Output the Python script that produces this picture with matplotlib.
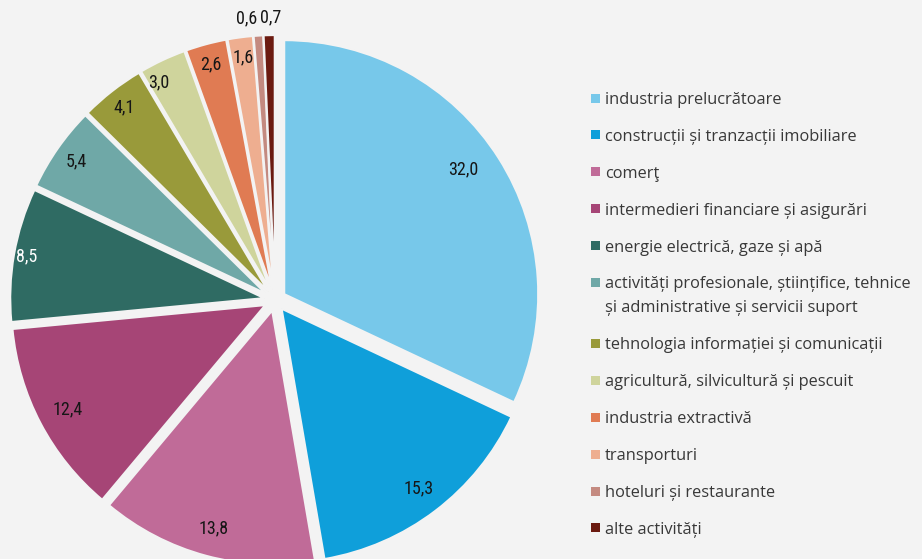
"""Pie chart: structura pe sectoare (procente)."""

import numpy as np
import matplotlib.pyplot as plt
from matplotlib.patches import Rectangle

# Data
sectors = [
    'industria prelucrătoare',
    'construcții și tranzacții imobiliare',
    'comerţ',
    'intermedieri financiare și asigurări',
    'energie electrică, gaze și apă',
    'activități profesionale, științifice, tehnice\nși administrative și servicii suport',
    'tehnologia informației și comunicații',
    'agricultură, silvicultură și pescuit',
    'industria extractivă',
    'transporturi',
    'hoteluri și restaurante',
    'alte activități',
]
shares = [32.0, 15.3, 13.8, 12.4, 8.5, 5.4, 4.1, 3.0, 2.6, 1.6, 0.6, 0.7]
value_labels = ['32,0', '15,3', '13,8', '12,4', '8,5', '5,4', '4,1', '3,0',
                '2,6', '1,6', '0,6', '0,7']

# Styling
colors = ['#77c8ea', '#0f9fda', '#c06b98', '#a64576', '#2f6b63', '#6fa8a7',
          '#999a3a', '#cfd49c', '#e07b53', '#eeae90', '#c48a80', '#6b1a10']
DARK = '#161616'
label_colors = [DARK, DARK, DARK, DARK, 'white', DARK,
                DARK, DARK, DARK, DARK, DARK, DARK]
# radial distance (from wedge centre) and angular nudge (deg) of value labels
label_dist = [0.86, 0.89, 0.89, 0.88, 0.95, 0.91, 0.92, 0.93, 0.92, 0.92, 1.07, 1.07]
label_shift = [2.5, 0, 0, 0, 0, 0, 0, 3.0, 0, 0, 2.2, -0.3]
BG = '#f3f3f3'
TXT = '#383838'
EXPLODE = 0.043

plt.rcParams['font.family'] = ['Open Sans', 'DejaVu Sans']

W, H = 922, 559
fig = plt.figure(figsize=(W / 100, H / 100), dpi=100, facecolor=BG)

# pie axes: centre at (275, 300) px from top-left, radius 254 px
cx, cy, r = 275, 300, 254
half = 270
ax = fig.add_axes([(cx - half) / W, (H - cy - half) / H, 2 * half / W, 2 * half / H])
ax.set_facecolor(BG)

wedges, _ = ax.pie(
    shares,
    colors=colors,
    startangle=90,
    counterclock=False,
    explode=[EXPLODE] * len(shares),
    radius=1.0,
    wedgeprops=dict(edgecolor=BG, linewidth=1.5),
)

for w, lab, col, d, sh in zip(wedges, value_labels, label_colors, label_dist, label_shift):
    mid = np.deg2rad((w.theta1 + w.theta2) / 2 + sh)
    x0, y0 = w.center
    ax.text(x0 + d * np.cos(mid), y0 + d * np.sin(mid), lab,
            ha='center', va='center', color=col, fontsize=13,
            family=['Roboto Condensed', 'Roboto', 'DejaVu Sans'])

lim = half / r
ax.set_xlim(-lim, lim)
ax.set_ylim(-lim, lim)
ax.set_aspect('equal')
ax.axis('off')

# Legend drawn by hand so the two-line entry keeps its marker on the first line
leg_x, leg_y0 = 591, 98      # px, top-left origin
row_pitch, line_pitch = 36.9, 24
box = 9
extra = 0
for i, (name, c) in enumerate(zip(sectors, colors)):
    y = leg_y0 + i * row_pitch + extra
    fig.patches.append(Rectangle(
        (leg_x / W, (H - y - box / 2) / H), box / W, box / H,
        transform=fig.transFigure, facecolor=c, edgecolor='none'))
    for k, line in enumerate(name.split('\n')):
        fig.text((leg_x + box + 5) / W, (H - y - k * line_pitch) / H, line,
                 ha='left', va='center_baseline', fontsize=11.8, color=TXT)
    extra += line_pitch * name.count('\n')

fig.savefig('out.png', dpi=100, facecolor=BG)
